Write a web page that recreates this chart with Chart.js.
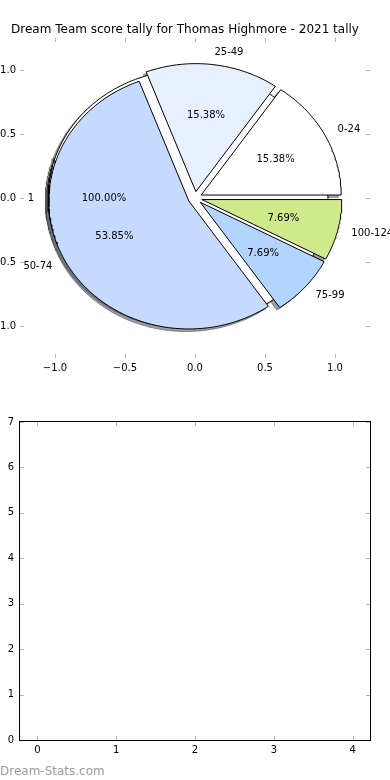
<!DOCTYPE html>
<html>
<head>
<meta charset="utf-8">
<script src="https://cdn.jsdelivr.net/npm/chart.js@4.4.0/dist/chart.umd.min.js"></script>
<style>
html, body { margin: 0; padding: 0; background: #fff; }
body { width: 390px; height: 780px; position: relative; overflow: hidden; font-family: 'DejaVu Sans', sans-serif; }
#pie-wrap { position: absolute; left: 0; top: 0; width: 390px; height: 390px; }
#empty-wrap { position: absolute; left: 0; top: 400px; width: 390px; height: 370px; }
#watermark { position: absolute; left: 0; top: 765px; font-size: 12px; line-height: 12px; color: #999; white-space: nowrap; }
</style>
</head>
<body>
<div id="pie-wrap"><canvas id="pie-chart"></canvas></div>
<div id="empty-wrap"><canvas id="empty-chart"></canvas></div>
<div id="watermark">Dream-Stats.com</div>
<script>
const chartTitle = 'Dream Team score tally for Thomas Highmore - 2021 tally';

// main pie
const sliceLabels = ['0-24', '25-49', '50-74', '75-99', '100-124'];
const sliceValues = [2, 2, 7, 1, 1];
const sliceColors = ['#ffffff', '#e8f0ff', '#c6d9ff', '#b3d4ff', '#ceea8a'];

// the single-slice pie sitting underneath
const backLabels = ['1'];
const backValues = [1];
const backColors = ['#ffffff'];

const pieTicks = [-1, -0.5, 0, 0.5, 1];
const pieTickLabels = ['\u22121.0', '\u22120.5', '0.0', '0.5', '1.0'];

const emptyXTicks = [0, 1, 2, 3, 4];
const emptyXLabels = ['0', '1', '2', '3', '4'];
const emptyYTicks = [0, 1, 2, 3, 4, 5, 6, 7];
const emptyYLabels = ['0', '1', '2', '3', '4', '5', '6', '7'];

const explode = 0.05;
const labelDistance = 1.1;
const pctDistance = 0.6;
const shadowShift = -0.02;

Chart.defaults.font.family = "'DejaVu Sans', sans-serif";
Chart.defaults.font.size = 10;
Chart.defaults.color = '#000';

function buildWedges(values, colors, labels) {
    const total = values.reduce((a, b) => a + b, 0);
    let acc = 0;
    return values.map((v, i) => {
        const a1 = acc * 360 / total;
        acc += v;
        const a2 = acc * 360 / total;
        const mid = (a1 + a2) / 2 * Math.PI / 180;
        return {
            a1: a1, a2: a2, mid: mid,
            cx: explode * Math.cos(mid),
            cy: explode * Math.sin(mid),
            color: colors[i],
            label: labels[i],
            pct: (100 * v / total).toFixed(2) + '%'
        };
    });
}

function outline(w, dx, dy) {
    const pts = [];
    const full = w.a2 - w.a1 >= 360;
    if (!full) pts.push({x: w.cx + dx, y: w.cy + dy});
    const n = Math.ceil(w.a2 - w.a1);
    for (let i = 0; i <= n; i++) {
        const a = (w.a1 + (w.a2 - w.a1) * i / n) * Math.PI / 180;
        pts.push({x: w.cx + dx + Math.cos(a), y: w.cy + dy + Math.sin(a)});
    }
    if (!full) pts.push({x: w.cx + dx, y: w.cy + dy});
    return pts;
}

function shade(hex) {
    const r = parseInt(hex.slice(1, 3), 16) * 0.3;
    const g = parseInt(hex.slice(3, 5), 16) * 0.3;
    const b = parseInt(hex.slice(5, 7), 16) * 0.3;
    return 'rgba(' + r + ',' + g + ',' + b + ',0.5)';
}

const backWedges = buildWedges(backValues, backColors, backLabels);
const mainWedges = buildWedges(sliceValues, sliceColors, sliceLabels);
const allWedges = backWedges.concat(mainWedges);

// shadows first, then wedges (back pie before main pie)
const layers = [];
allWedges.forEach(w => layers.push({data: outline(w, shadowShift, shadowShift), backgroundColor: shade(w.color), borderColor: shade(w.color)}));
allWedges.forEach(w => layers.push({data: outline(w, 0, 0), backgroundColor: w.color, borderColor: '#000'}));

const pieDatasets = layers.map((l, i) => ({
    data: l.data,
    backgroundColor: l.backgroundColor,
    borderColor: l.borderColor,
    borderWidth: 1,
    showLine: true,
    fill: 'shape',
    tension: 0,
    pointRadius: 0,
    pointHoverRadius: 0,
    order: layers.length - i
}));

// text centred like matplotlib's va='center' (baseline a bit under the middle)
const textDrop = 2.7;

const pieText = {
    id: 'pieText',
    afterDatasetsDraw(chart) {
        const ctx = chart.ctx;
        const xs = chart.scales.x, ys = chart.scales.y;
        ctx.save();
        ctx.font = "10px 'DejaVu Sans'";
        ctx.fillStyle = '#000';
        ctx.textBaseline = 'alphabetic';
        allWedges.forEach(w => {
            const lx = w.cx + labelDistance * Math.cos(w.mid);
            const ly = w.cy + labelDistance * Math.sin(w.mid);
            ctx.textAlign = lx > 0 ? 'left' : 'right';
            ctx.fillText(w.label, xs.getPixelForValue(lx), ys.getPixelForValue(ly) + textDrop);
            ctx.textAlign = 'center';
            ctx.fillText(w.pct,
                xs.getPixelForValue(w.cx + pctDistance * Math.cos(w.mid)),
                ys.getPixelForValue(w.cy + pctDistance * Math.sin(w.mid)) + textDrop);
        });
        ctx.restore();
    }
};

const tickMarks = {
    id: 'tickMarks',
    afterDraw(chart, args, opts) {
        const ctx = chart.ctx;
        const a = chart.chartArea;
        const xs = chart.scales.x, ys = chart.scales.y;
        ctx.save();
        ctx.lineWidth = 1;
        ctx.strokeStyle = '#b4b4b4';
        ctx.beginPath();
        xs.ticks.forEach(t => {
            const px = Math.round(xs.getPixelForValue(t.value)) + 0.5;
            ctx.moveTo(px, a.bottom); ctx.lineTo(px, a.bottom - 4);
            ctx.moveTo(px, a.top); ctx.lineTo(px, a.top + 4);
        });
        ys.ticks.forEach(t => {
            const py = Math.round(ys.getPixelForValue(t.value)) + 0.5;
            ctx.moveTo(a.left, py); ctx.lineTo(a.left + 4, py);
            ctx.moveTo(a.right, py); ctx.lineTo(a.right - 4, py);
        });
        ctx.stroke();
        if (opts.frame) {
            ctx.strokeStyle = '#000';
            ctx.strokeRect(a.left - 0.5, a.top - 0.5, a.right - a.left + 1, a.bottom - a.top + 1);
        }
        ctx.restore();
    }
};

function fixedTicks(values) {
    return scale => { scale.ticks = values.map(v => ({value: v})); };
}

const pieCtx = document.getElementById('pie-chart').getContext('2d');
const pieChart = new Chart(pieCtx, {
    type: 'scatter',
    data: {datasets: pieDatasets},
    options: {
        responsive: true,
        maintainAspectRatio: false,
        animation: false,
        events: [],
        layout: {padding: {left: 0, right: 20, top: 0, bottom: 0}},
        plugins: {
            legend: {display: false},
            tooltip: {enabled: false},
            title: {
                display: true,
                text: chartTitle,
                color: '#000',
                font: {size: 12, weight: 'normal', lineHeight: 1.2},
                padding: {top: 23, bottom: 0.6}
            },
            tickMarks: {frame: false}
        },
        scales: {
            x: {
                type: 'linear', min: -1.25, max: 1.25,
                afterBuildTicks: fixedTicks(pieTicks),
                afterFit: s => { s.height = 32; },
                grid: {display: false, drawTicks: false},
                border: {display: false},
                ticks: {autoSkip: false, maxRotation: 0, padding: 4, callback: (v, i) => pieTickLabels[i]}
            },
            y: {
                type: 'linear', min: -1.25, max: 1.25,
                afterBuildTicks: fixedTicks(pieTicks),
                afterFit: s => { s.width = 20; },
                grid: {display: false, drawTicks: false},
                border: {display: false},
                ticks: {autoSkip: false, padding: 4, callback: (v, i) => pieTickLabels[i]}
            }
        }
    },
    plugins: [pieText, tickMarks]
});

const emptyCtx = document.getElementById('empty-chart').getContext('2d');
const emptyChart = new Chart(emptyCtx, {
    type: 'scatter',
    data: {datasets: []},
    options: {
        responsive: true,
        maintainAspectRatio: false,
        animation: false,
        events: [],
        layout: {padding: {left: 0, right: 20, top: 22, bottom: 0}},
        plugins: {
            legend: {display: false},
            tooltip: {enabled: false},
            tickMarks: {frame: true}
        },
        scales: {
            x: {
                type: 'linear', min: -0.22, max: 4.22,
                afterBuildTicks: fixedTicks(emptyXTicks),
                afterFit: s => { s.height = 30; },
                grid: {display: false, drawTicks: false},
                border: {display: false},
                ticks: {autoSkip: false, maxRotation: 0, padding: 4, callback: (v, i) => emptyXLabels[i]}
            },
            y: {
                type: 'linear', min: 0, max: 7,
                afterBuildTicks: fixedTicks(emptyYTicks),
                afterFit: s => { s.width = 20; },
                grid: {display: false, drawTicks: false},
                border: {display: false},
                ticks: {autoSkip: false, padding: 6, callback: (v, i) => emptyYLabels[i]}
            }
        }
    },
    plugins: [tickMarks]
});
</script>
</body>
</html>
